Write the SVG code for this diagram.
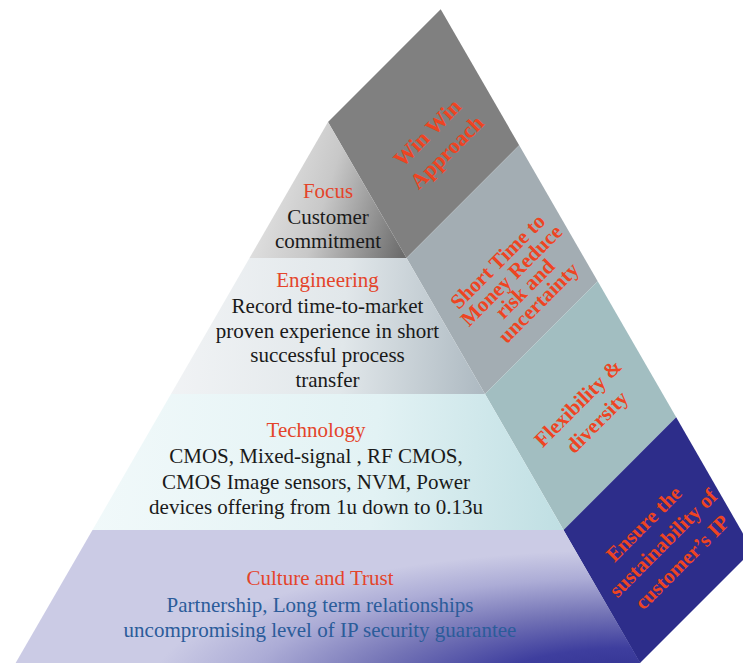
<svg xmlns="http://www.w3.org/2000/svg" width="743" height="665" viewBox="0 0 743 665">
<defs>
<linearGradient id="gFocus" gradientUnits="userSpaceOnUse" x1="250" y1="190" x2="407" y2="240">
<stop offset="0" stop-color="#e6e6e6"/><stop offset="0.45" stop-color="#c8c8c8"/><stop offset="1" stop-color="#6c6c6c"/>
</linearGradient>
<linearGradient id="gEng" gradientUnits="userSpaceOnUse" x1="171" y1="320" x2="485" y2="340">
<stop offset="0" stop-color="#f1f3f5"/><stop offset="0.55" stop-color="#e1e7ea"/><stop offset="1" stop-color="#aebac2"/>
</linearGradient>
<linearGradient id="gTech" gradientUnits="userSpaceOnUse" x1="92" y1="450" x2="563" y2="480">
<stop offset="0" stop-color="#f1f9fa"/><stop offset="0.6" stop-color="#e2f2f4"/><stop offset="1" stop-color="#c0dfe3"/>
</linearGradient>
<radialGradient id="gCult" gradientUnits="userSpaceOnUse" cx="0" cy="0" r="1" gradientTransform="translate(630,690) scale(480,140)">
<stop offset="0" stop-color="#2c2c8c"/><stop offset="0.3" stop-color="#3e3e9e"/><stop offset="0.55" stop-color="#7474b6"/><stop offset="0.8" stop-color="#acacd6"/><stop offset="1" stop-color="#cbcbe5"/>
</radialGradient>
</defs>
<style>
.body{font-family:"Liberation Serif","Times New Roman",serif;font-size:21px;fill:#1a1a1a;text-anchor:middle}
.head{font-family:"Liberation Serif","Times New Roman",serif;font-size:21px;fill:#e4442a;text-anchor:middle}
.blue{fill:#2b5c9a}
.side{font-family:"Liberation Serif","Times New Roman",serif;font-size:21px;font-weight:bold;fill:#ee4422;text-anchor:middle}
</style>
<g id="connectors"/>
<g id="win-win">
<polygon points="328,122 440.7,9.3 519.2,145.3 406.5,258" fill="#808080"/>
<g transform="translate(442,147.5) rotate(-45)">
<text class="side" style="font-size:22px" x="0" y="-13.5">Win Win</text>
<text class="side" style="font-size:22px" x="0" y="14">Approach</text>
</g>
</g>
<g id="short-time">
<polygon points="406.5,258 519.2,145.3 597.7,281.3 485,394" fill="#a3adb3"/>
<g transform="translate(523,287) rotate(-45)">
<text class="side" x="0" y="-29">Short Time to</text>
<text class="side" x="0" y="-9.5">Money Reduce</text>
<text class="side" x="0" y="9.5">risk and</text>
<text class="side" x="0" y="29">uncertainty</text>
</g>
</g>
<g id="flexibility">
<polygon points="485,394 597.7,281.3 676.2,417.3 563.5,530" fill="#a2bec1"/>
<g transform="translate(592.4,417.4) rotate(-45)">
<text class="side" x="0" y="-13.4">Flexibility &amp;</text>
<text class="side" x="0" y="13.4">diversity</text>
</g>
</g>
<g id="ensure">
<polygon points="563.5,530 676.2,417.3 752.7,550.3 640,663" fill="#2d2d8a"/>
<g transform="translate(668,548) rotate(-45)">
<text class="side" x="0" y="-27.3">Ensure the</text>
<text class="side" x="0" y="0">sustainability of</text>
<text class="side" x="0" y="27">customer’s IP</text>
</g>
</g>
<g id="focus">
<polygon points="328,122 406.5,258 249.5,258" fill="url(#gFocus)"/>
<text class="head" x="328" y="198">Focus</text>
<text class="body" x="328" y="223.5">Customer</text>
<text class="body" x="328" y="248">commitment</text>
</g>
<g id="engineering">
<polygon points="249.5,258 406.5,258 485,394 171,394" fill="url(#gEng)"/>
<text class="head" x="327.5" y="287">Engineering</text>
<text class="body" x="327.5" y="313">Record time-to-market</text>
<text class="body" x="327.5" y="338">proven experience in short</text>
<text class="body" x="327.5" y="362">successful process</text>
<text class="body" x="327.5" y="387">transfer</text>
</g>
<g id="technology">
<polygon points="171,394 485,394 563.5,530 92.5,530" fill="url(#gTech)"/>
<text class="head" x="316" y="437">Technology</text>
<text class="body" x="316" y="463">CMOS, Mixed-signal , RF CMOS,</text>
<text class="body" x="316" y="489">CMOS Image sensors, NVM, Power</text>
<text class="body" x="316" y="514">devices offering from 1u down to 0.13u</text>
</g>
<g id="culture">
<polygon points="92.5,530 563.5,530 640.4,663 15.6,663" fill="url(#gCult)"/>
<text class="head" x="320" y="585">Culture and Trust</text>
<text class="body blue" x="320" y="612">Partnership, Long term relationships</text>
<text class="body blue" x="320" y="637">uncompromising level of IP security guarantee</text>
</g>
</svg>
